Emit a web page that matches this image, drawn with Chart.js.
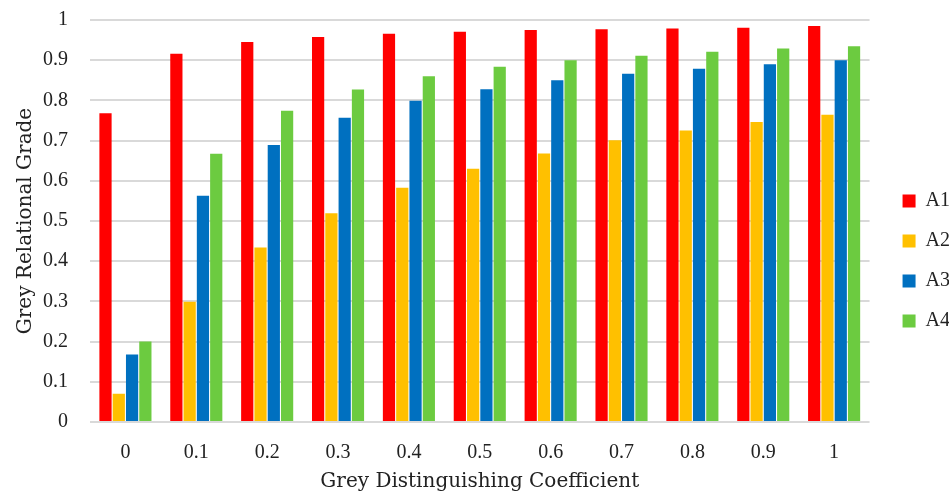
<!DOCTYPE html>
<html>
<head>
<meta charset="utf-8">
<script src="https://cdn.jsdelivr.net/npm/chart.js@4/dist/chart.umd.min.js"></script>
<style>
  html, body { margin: 0; padding: 0; background: #ffffff; }
  canvas { display: block; }
</style>
</head>
<body>
<canvas id="chart" width="949" height="502"></canvas>
<script>
// Grey distinguishing coefficients (x categories)
const categories = ['0', '0.1', '0.2', '0.3', '0.4', '0.5', '0.6', '0.7', '0.8', '0.9', '1'];

// Grey relational grade of each alternative
const seriesA1 = [0.768, 0.916, 0.945, 0.958, 0.966, 0.971, 0.975, 0.977, 0.979, 0.981, 0.985];
const seriesA2 = [0.070, 0.299, 0.434, 0.519, 0.583, 0.630, 0.668, 0.701, 0.725, 0.746, 0.764];
const seriesA3 = [0.168, 0.563, 0.689, 0.757, 0.799, 0.828, 0.850, 0.866, 0.879, 0.890, 0.900];
const seriesA4 = [0.200, 0.667, 0.774, 0.827, 0.860, 0.884, 0.900, 0.911, 0.921, 0.929, 0.935];

const seriesNames = ['A1', 'A2', 'A3', 'A4'];
const yTickLabels = ['0', '0.1', '0.2', '0.3', '0.4', '0.5', '0.6', '0.7', '0.8', '0.9', '1'];

const colors = ['#ff0000', '#ffc000', '#0070c0', '#6ccb40'];
const values = [seriesA1, seriesA2, seriesA3, seriesA4];

const tickFont = { family: '"Liberation Serif", serif', size: 20 };
const titleFont = { family: '"DejaVu Serif", serif', size: 20 };
const textColor = '#222222';

// Nudges the legend away from the plot area
const legendOffset = {
  id: 'legendOffset',
  afterLayout(chart) {
    const lg = chart.legend;
    if (lg) { lg.left += 13; lg.right += 13; }
  }
};

new Chart(document.getElementById('chart'), {
  type: 'bar',
  data: {
    labels: categories,
    datasets: seriesNames.map((name, i) => ({
      label: name,
      data: values[i],
      backgroundColor: colors[i],
      borderWidth: 0,
      categoryPercentage: 0.75,
      barPercentage: 0.92
    }))
  },
  options: {
    responsive: false,
    animation: false,
    layout: { padding: { top: 20, left: 10, right: 2, bottom: 0 } },
    plugins: {
      tooltip: { enabled: false },
      legend: {
        position: 'right',
        labels: {
          font: tickFont,
          color: textColor,
          boxWidth: 13,
          boxHeight: 13,
          padding: 20
        }
      }
    },
    scales: {
      x: {
        grid: { display: false },
        border: { display: false },
        ticks: { font: tickFont, color: textColor, padding: 11 },
        title: {
          display: true,
          text: 'Grey Distinguishing Coefficient',
          font: titleFont,
          color: textColor,
          padding: { top: 0, bottom: 8 }
        },
        afterFit(s) { s.height = 80; }
      },
      y: {
        min: 0,
        max: 1,
        border: { display: false },
        grid: { color: '#d9d9d9', lineWidth: 2, drawTicks: false },
        ticks: {
          stepSize: 0.1,
          font: tickFont,
          color: textColor,
          padding: 22,
          callback: (v, i) => yTickLabels[i]
        },
        title: {
          display: true,
          text: 'Grey Relational Grade',
          font: titleFont,
          color: textColor,
          padding: { top: 4, bottom: 0 }
        },
        afterFit(s) {
          s.width = 80;
          s.paddingTop = 12;
          s.paddingBottom = 0;
        }
      }
    }
  },
  plugins: [legendOffset]
});
</script>
</body>
</html>
